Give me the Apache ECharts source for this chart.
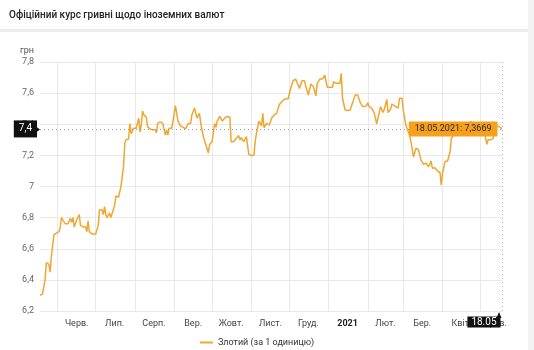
<!DOCTYPE html>
<html>
<head>
<meta charset="utf-8">
<script src="https://cdn.jsdelivr.net/npm/echarts@6.0.0/dist/echarts.min.js"></script>
<style>
  html, body { margin: 0; padding: 0; background: #fff; }
  #chart { width: 534px; height: 350px; }
</style>
</head>
<body>
<div id="chart"></div>
<script>
// Official UAH rate for the Polish zloty (per 1 unit)
const dates = [
  '2020-05-18','2020-05-20','2020-05-22','2020-05-23','2020-05-25','2020-05-26','2020-05-27','2020-05-29','2020-05-31',
  '2020-06-02','2020-06-03','2020-06-04','2020-06-05','2020-06-07','2020-06-09','2020-06-11','2020-06-12','2020-06-13',
  '2020-06-14','2020-06-16','2020-06-18','2020-06-19','2020-06-21','2020-06-23','2020-06-24','2020-06-25','2020-06-26',
  '2020-06-28','2020-07-01','2020-07-03','2020-07-04','2020-07-06','2020-07-07','2020-07-08','2020-07-09','2020-07-10',
  '2020-07-12','2020-07-13','2020-07-14','2020-07-16','2020-07-17','2020-07-19','2020-07-20','2020-07-21','2020-07-23',
  '2020-07-24','2020-07-25','2020-07-27','2020-07-28','2020-07-29','2020-07-31','2020-08-01','2020-08-02','2020-08-04',
  '2020-08-05','2020-08-06','2020-08-07','2020-08-08','2020-08-10','2020-08-11','2020-08-13','2020-08-14','2020-08-15',
  '2020-08-17','2020-08-18','2020-08-19','2020-08-21','2020-08-23','2020-08-25','2020-08-26','2020-08-27','2020-08-28',
  '2020-08-30','2020-08-31','2020-09-02','2020-09-04','2020-09-06','2020-09-08','2020-09-10','2020-09-11','2020-09-12',
  '2020-09-14','2020-09-15','2020-09-17','2020-09-19','2020-09-21','2020-09-22','2020-09-24','2020-09-26','2020-09-28',
  '2020-09-29','2020-10-01','2020-10-03','2020-10-04','2020-10-05','2020-10-07','2020-10-09','2020-10-11','2020-10-12',
  '2020-10-13','2020-10-15','2020-10-16','2020-10-18','2020-10-20','2020-10-22','2020-10-23','2020-10-24','2020-10-26',
  '2020-10-27','2020-10-28','2020-10-30','2020-11-01','2020-11-03','2020-11-04','2020-11-05','2020-11-07','2020-11-08',
  '2020-11-09','2020-11-10','2020-11-11','2020-11-13','2020-11-15','2020-11-16','2020-11-17','2020-11-19','2020-11-21',
  '2020-11-22','2020-11-23','2020-11-25','2020-11-27','2020-11-30','2020-12-02','2020-12-04','2020-12-06','2020-12-07',
  '2020-12-09','2020-12-11','2020-12-13','2020-12-14','2020-12-16','2020-12-18','2020-12-19','2020-12-20','2020-12-22',
  '2020-12-23','2020-12-25','2020-12-27','2020-12-28','2020-12-29','2020-12-31','2021-01-02','2021-01-04','2021-01-05',
  '2021-01-07','2021-01-08','2021-01-10','2021-01-11','2021-01-12','2021-01-14','2021-01-16','2021-01-18','2021-01-20',
  '2021-01-22','2021-01-24','2021-01-26','2021-01-28','2021-01-29','2021-01-31','2021-02-01','2021-02-02','2021-02-04',
  '2021-02-06','2021-02-08','2021-02-10','2021-02-11','2021-02-13','2021-02-14','2021-02-16','2021-02-17','2021-02-19',
  '2021-02-20','2021-02-22','2021-02-23','2021-02-25','2021-02-26','2021-02-28','2021-03-01','2021-03-03','2021-03-06',
  '2021-03-08','2021-03-09','2021-03-11','2021-03-13','2021-03-15','2021-03-17','2021-03-19','2021-03-21','2021-03-23',
  '2021-03-24','2021-03-26','2021-03-28','2021-03-30','2021-03-31','2021-04-01','2021-04-03','2021-04-05','2021-04-07',
  '2021-04-08','2021-04-10','2021-04-12','2021-04-15','2021-04-19','2021-04-21','2021-04-23','2021-04-26','2021-04-30',
  '2021-05-04','2021-05-06','2021-05-07','2021-05-09','2021-05-11','2021-05-12','2021-05-14','2021-05-15','2021-05-17',
  '2021-05-18'
];

const rates = [
  6.30, 6.31, 6.40, 6.51, 6.50, 6.45, 6.55, 6.69, 6.70,
  6.71, 6.74, 6.80, 6.785, 6.76, 6.76, 6.795, 6.77, 6.80,
  6.74, 6.785, 6.82, 6.75, 6.74, 6.74, 6.71, 6.78, 6.71,
  6.695, 6.695, 6.75, 6.85, 6.85, 6.82, 6.87, 6.82, 6.80,
  6.83, 6.80, 6.805, 6.88, 6.94, 6.93, 6.935, 7.00, 7.13,
  7.28, 7.30, 7.305, 7.405, 7.34, 7.375, 7.37, 7.375, 7.44,
  7.35, 7.395, 7.485, 7.46, 7.445, 7.385, 7.37, 7.375, 7.365,
  7.365, 7.345, 7.405, 7.415, 7.405, 7.33, 7.365, 7.33, 7.375,
  7.375, 7.415, 7.52, 7.42, 7.39, 7.38, 7.37, 7.365, 7.405,
  7.405, 7.46, 7.505, 7.44, 7.47, 7.405, 7.32, 7.27, 7.215,
  7.27, 7.29, 7.405, 7.38, 7.42, 7.45, 7.42, 7.44, 7.435,
  7.45, 7.445, 7.288, 7.288, 7.31, 7.327, 7.30, 7.314, 7.288,
  7.293, 7.32, 7.207, 7.198, 7.202, 7.288, 7.342, 7.42, 7.42,
  7.39, 7.47, 7.378, 7.405, 7.395, 7.415, 7.44, 7.46, 7.47,
  7.475, 7.525, 7.545, 7.56, 7.564, 7.63, 7.68, 7.69, 7.68,
  7.63, 7.68, 7.68, 7.642, 7.588, 7.659, 7.667, 7.642, 7.582,
  7.663, 7.69, 7.69, 7.69, 7.716, 7.637, 7.637, 7.637, 7.673,
  7.663, 7.663, 7.663, 7.727, 7.567, 7.492, 7.488, 7.492, 7.539,
  7.588, 7.588, 7.539, 7.513, 7.513, 7.518, 7.539, 7.513, 7.503,
  7.475, 7.402, 7.475, 7.513, 7.475, 7.496, 7.56, 7.475, 7.496,
  7.53, 7.518, 7.524, 7.503, 7.567, 7.567, 7.49, 7.395, 7.33,
  7.246, 7.19, 7.246, 7.235, 7.17, 7.143, 7.15, 7.127, 7.164,
  7.117, 7.121, 7.10, 7.09, 7.01, 7.085, 7.16, 7.164, 7.224,
  7.31, 7.33, 7.34, 7.37, 7.38, 7.36, 7.42, 7.39, 7.38,
  7.36, 7.27, 7.30, 7.30, 7.31, 7.353, 7.39, 7.40, 7.378,
  7.3669
];

// Month boundaries (grid lines) and month captions placed inside each month
const monthStarts = [
  '2020-06-01','2020-07-01','2020-08-01','2020-09-01','2020-10-01','2020-11-01',
  '2020-12-01','2021-01-01','2021-02-01','2021-03-01','2021-04-01','2021-05-01'
];
const monthLabelDates = [
  '2020-06-16','2020-07-16','2020-08-16','2020-09-16','2020-10-16','2020-11-16',
  '2020-12-16','2021-01-16','2021-02-15','2021-03-16','2021-04-16','2021-05-13'
];
const monthLabels = ['Черв.', 'Лип.', 'Серп.', 'Вер.', 'Жовт.', 'Лист.', 'Груд.', '2021', 'Лют.', 'Бер.', 'Квіт.', 'Трав.'];

const seriesName = 'Злотий (за 1 одиницю)';
const titleText = 'Офіційний курс гривні щодо іноземних валют';
const unitName = 'грн';

const FONT = 'Roboto, "Noto Sans", sans-serif';
const LINE_COLOR = '#f0a732';

function toTs(s) {
  const [y, m, d] = s.split('-').map(Number);
  return new Date(y, m - 1, d).getTime();
}
function comma(v) {
  return String(v).replace('.', ',');
}
function fmtDayMonth(ts) {
  const d = new Date(ts);
  const dd = String(d.getDate()).padStart(2, '0');
  const mm = String(d.getMonth() + 1).padStart(2, '0');
  return dd + '.' + mm;
}

const labelByTs = new Map(monthLabelDates.map((d, i) => [toTs(d), monthLabels[i]]));
const firstTs = toTs(dates[0]);
const lastTs = toTs(dates[dates.length - 1]);
const lastRate = rates[rates.length - 1];
const yMin = 6.2, yMax = 7.8, yStep = 0.2;

const chart = echarts.init(document.getElementById('chart'), null, { renderer: 'canvas' });

chart.setOption({
  animation: false,
  backgroundColor: '#fff',
  textStyle: { fontFamily: FONT },
  title: {
    text: titleText,
    left: 9,
    top: 10,
    padding: 0,
    textStyle: { fontFamily: FONT, fontSize: 10, fontWeight: 500, color: '#222' }
  },
  graphic: [
    { type: 'rect', left: 0, top: 29, shape: { width: 528, height: 3 }, style: { fill: '#ececec' }, silent: true },
    { type: 'rect', left: 528, top: 0, shape: { width: 6, height: 350 }, style: { fill: '#f3f3f3' }, silent: true }
  ],
  legend: {
    data: [seriesName],
    left: 200,
    top: 338,
    padding: 0,
    icon: 'rect',
    itemWidth: 13,
    itemHeight: 2,
    itemGap: 10,
    textStyle: { fontFamily: FONT, fontSize: 9, color: '#333' }
  },
  grid: { left: 40, right: 32, top: 62, bottom: 39, containLabel: false },
  xAxis: {
    type: 'value',
    min: firstTs,
    max: lastTs,
    axisLine: { show: false },
    axisTick: { show: false, customValues: monthStarts.map(toTs) },
    splitLine: { show: true, lineStyle: { color: '#e8e8e8', width: 1 } },
    axisLabel: {
      customValues: monthLabelDates.map(toTs),
      margin: 8,
      fontFamily: FONT,
      fontSize: 9,
      color: '#444',
      formatter: function (value) {
        const t = labelByTs.get(value) || '';
        return /^\d{4}$/.test(t) ? '{b|' + t + '}' : t;
      },
      rich: { b: { fontFamily: FONT, fontSize: 9, fontWeight: 'bold', color: '#222' } }
    }
  },
  yAxis: {
    type: 'value',
    min: yMin,
    max: yMax,
    interval: yStep,
    name: unitName,
    nameLocation: 'end',
    nameGap: 7,
    nameTextStyle: { fontFamily: FONT, fontSize: 9, color: '#555', align: 'right', padding: [0, 6, 0, 0] },
    axisLine: { show: false },
    axisTick: { show: false },
    splitLine: { lineStyle: { color: '#e8e8e8', width: 1 } },
    axisLabel: {
      margin: 6,
      fontFamily: FONT,
      fontSize: 9,
      color: '#666',
      formatter: v => comma(Math.round(v * 10) / 10)
    }
  },
  series: [{
    name: seriesName,
    type: 'line',
    data: dates.map((d, i) => [toTs(d), rates[i]]),
    showSymbol: false,
    symbol: 'none',
    lineStyle: { color: LINE_COLOR, width: 1.5 },
    itemStyle: { color: LINE_COLOR },
    markLine: {
      silent: true,
      symbol: 'none',
      animation: false,
      data: [
        {
          yAxis: lastRate,
          lineStyle: { type: [1, 3], color: '#9a9a9a', width: 1 },
          label: {
            show: true,
            position: 'start',
            distance: 3,
            formatter: () => comma((Math.round(lastRate * 10) / 10).toFixed(1)),
            backgroundColor: '#111',
            color: '#fff',
            fontFamily: FONT,
            fontSize: 10,
            padding: [4, 5, 3, 5]
          }
        },
        {
          xAxis: lastTs,
          lineStyle: { type: [1, 3], color: '#b5b5b5', width: 1 },
          label: { show: false }
        }
      ]
    },
    markPoint: {
      silent: true,
      animation: false,
      data: [
        {
          coord: [lastTs, lastRate],
          symbol: 'circle',
          symbolSize: 1,
          itemStyle: { color: 'transparent' },
          label: {
            show: true,
            position: [-4, 0],
            align: 'right',
            verticalAlign: 'middle',
            formatter: () => dates[dates.length - 1].split('-').reverse().join('.') + ': ' + comma(lastRate),
            backgroundColor: '#f6a01d',
            color: '#2a2a2a',
            textBorderWidth: 0,
            fontFamily: FONT,
            fontSize: 9,
            padding: [3, 6, 3, 6],
            borderRadius: 1
          }
        },
        {
          coord: [lastTs, yMin],
          symbol: 'circle',
          symbolSize: 1,
          itemStyle: { color: 'transparent' },
          label: {
            show: true,
            position: [-1, 6],
            align: 'right',
            verticalAlign: 'top',
            formatter: () => fmtDayMonth(lastTs),
            backgroundColor: '#111',
            color: '#fff',
            textBorderWidth: 0,
            fontFamily: FONT,
            fontSize: 10,
            padding: [1, 4, 0, 4]
          }
        },
        {
          coord: [lastTs, yMin],
          symbol: 'triangle',
          symbolSize: [5, 6],
          symbolOffset: [-3, 4],
          itemStyle: { color: '#111' },
          label: { show: false }
        },
        {
          coord: [firstTs, lastRate],
          symbol: 'triangle',
          symbolSize: [6, 4],
          symbolRotate: -90,
          symbolOffset: [-2, 0],
          itemStyle: { color: '#111' },
          label: { show: false }
        }
      ]
    }
  }]
});
</script>
</body>
</html>
